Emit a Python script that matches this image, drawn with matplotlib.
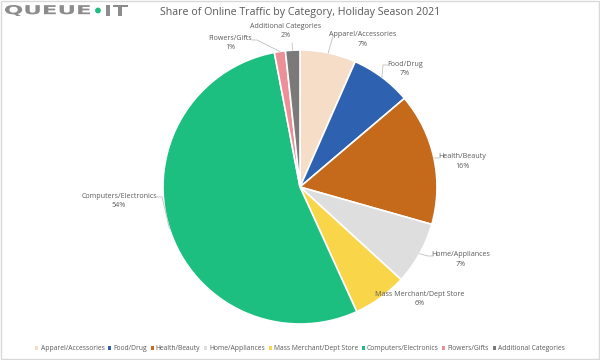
import math
import matplotlib.pyplot as plt
from matplotlib.patches import Patch, Rectangle, PathPatch
from matplotlib.textpath import TextPath
from matplotlib.font_manager import FontProperties
from matplotlib.transforms import Affine2D

# Share of online traffic (percent), clockwise from 12 o'clock
categories = ["Apparel/Accessories", "Food/Drug", "Health/Beauty", "Home/Appliances",
              "Mass Merchant/Dept Store", "Computers/Electronics", "Flowers/Gifts",
              "Additional Categories"]
shares = [6.6, 7.2, 15.6, 7.4, 6.4, 53.8, 1.3, 1.7]
colors = ["#F6DDC7", "#2E62B0", "#C5691B", "#DDDEDD", "#F9D54A", "#1DBF81", "#EE8F98", "#7A7A7A"]

# label layout in pixels: (centre x, name y), leader tail or None
label_pos = [(363, 35), (405, 64), (462, 157), (461, 255), (420, 294), (119, 196), (230, 38), (286, 26)]
leader_tail = [(333, 36), (388, 65), (439, 158), (433, 256), None, (157, 197), (252, 40), (292, 43)]

W, H = 600, 360
CX, CY, R = 300, 187, 137
TXT = "#595959"
plt.rcParams['font.family'] = ['Open Sans', 'DejaVu Sans']

fig = plt.figure(figsize=(6, 3.6), dpi=100)
ax = fig.add_axes([0, 0, 1, 1])

wedges, _ = ax.pie(shares, colors=colors, startangle=90, counterclock=False,
                   radius=R, frame=False,
                   wedgeprops=dict(edgecolor="white", linewidth=1.2))
# pie draws in y-up coordinates; flip it into the pixel frame
for w in wedges:
    w.set_center((CX, CY))
    t1, t2 = w.theta1, w.theta2
    w.set_theta1(-t2)
    w.set_theta2(-t1)
ax.set_xlim(0, W)
ax.set_ylim(H, 0)
ax.set_aspect("equal")
ax.axis("off")

total = sum(shares)
cum = 0
for i, (name, v) in enumerate(zip(categories, shares)):
    mid = (cum + v / 2) / total * 2 * math.pi
    cum += v
    rx = CX + R * math.sin(mid)
    ry = CY - R * math.cos(mid)
    lx, ly = label_pos[i]
    ax.text(lx, ly, name, ha="center", va="center", fontsize=5.1, color=TXT)
    ax.text(lx, ly + 9.5, "%d%%" % round(v), ha="center", va="center", fontsize=5.1, color=TXT)
    tail = leader_tail[i]
    if tail is not None:
        tx, ty = tail
        ex = tx + (5 if rx > tx else -5) if abs(rx - tx) > 6 else tx
        ax.plot([tx, ex, rx], [ty, ty, ry], color="#BFBFBF", lw=0.6, zorder=1)

fig.text(300 / W, 1 - 12 / H, "Share of Online Traffic by Category, Holiday Season 2021",
         ha="center", va="center", fontsize=7.7, color=TXT)

# logo: stretched block letters
fp = FontProperties(family="DejaVu Sans", weight="bold")


def logo_word(s, x0, x1, y0, y1):
    p = TextPath((0, 0), s, size=10, prop=fp)
    bb = p.get_extents()
    tr = (Affine2D().translate(-bb.x0, -bb.y0)
          .scale((x1 - x0) / bb.width, -(y1 - y0) / bb.height)
          .translate(x0, y1))
    ax.add_patch(PathPatch(tr.transform_path(p), facecolor="#8C8C8C", edgecolor="none"))


logo_word("QUEUE", 5, 90, 5, 16)
logo_word("IT", 106, 128, 5, 16)
ax.add_patch(plt.Circle((98, 10.5), 2.2, color="#1DBF81"))

handles = [Patch(facecolor=c, edgecolor="none") for c in colors]
fig.legend(handles, categories, loc="center", bbox_to_anchor=(0.5, 1 - 349 / H), ncol=8,
           fontsize=4.9, frameon=False, handlelength=0.45, handleheight=0.45,
           handletextpad=0.3, columnspacing=0.55, labelcolor=TXT)

fig.patches.append(Rectangle((0.001, 0.002), 0.997, 0.995, transform=fig.transFigure,
                             fill=False, edgecolor="#D9D9D9", lw=1))

fig.savefig("out.png", dpi=100)
